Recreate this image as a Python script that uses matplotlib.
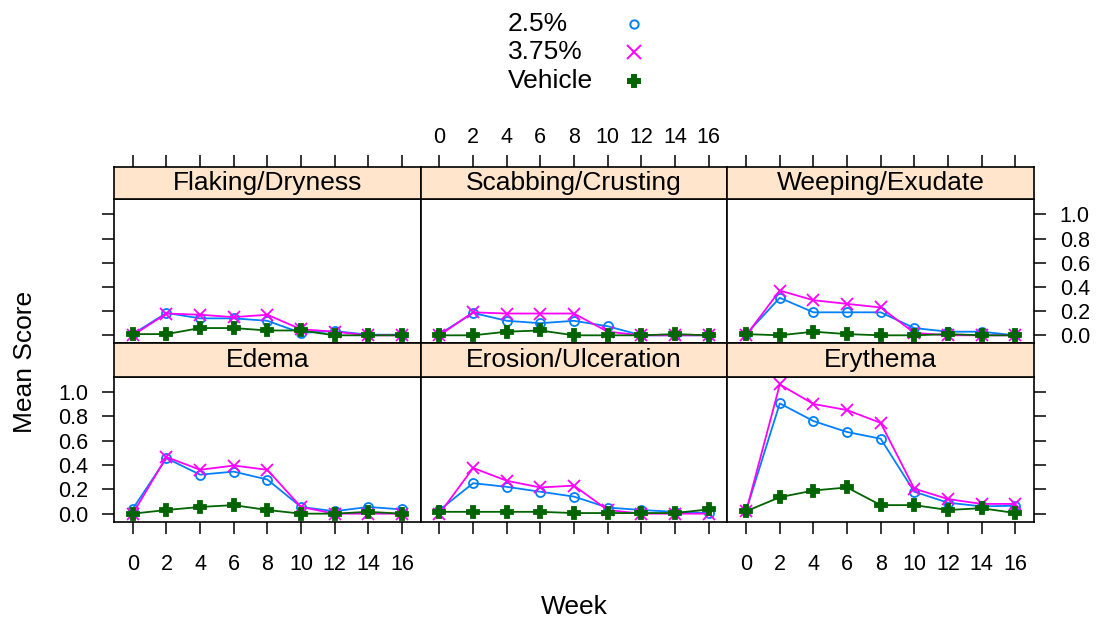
import numpy as np
import matplotlib
matplotlib.use("Agg")
import matplotlib.pyplot as plt

plt.rcParams['font.family'] = ['Liberation Sans', 'DejaVu Sans']

weeks = [0, 2, 4, 6, 8, 10, 12, 14, 16]
groups = ["2.5%", "3.75%", "Vehicle"]

# mean scores, per panel: 2.5%, 3.75%, Vehicle
flaking = [[0.01, 0.185, 0.14, 0.14, 0.12, 0.02, 0.035, 0.005, 0.005],
           [0.0, 0.18, 0.17, 0.15, 0.17, 0.05, 0.03, 0.0, 0.0],
           [0.01, 0.01, 0.06, 0.06, 0.04, 0.04, 0.0, 0.0, 0.0]]
scabbing = [[0.01, 0.185, 0.12, 0.10, 0.12, 0.075, 0.0, 0.0, 0.0],
            [0.0, 0.19, 0.18, 0.18, 0.18, 0.03, 0.0, 0.0, 0.0],
            [0.0, 0.0, 0.03, 0.04, 0.0, 0.0, 0.0, 0.01, 0.0]]
weeping = [[0.01, 0.31, 0.19, 0.19, 0.19, 0.06, 0.03, 0.03, 0.0],
           [0.0, 0.37, 0.29, 0.26, 0.23, 0.02, 0.0, 0.0, 0.0],
           [0.01, 0.0, 0.03, 0.01, 0.0, 0.0, 0.01, 0.0, 0.0]]
edema = [[0.04, 0.455, 0.32, 0.345, 0.28, 0.055, 0.02, 0.055, 0.035],
         [0.0, 0.465, 0.36, 0.395, 0.36, 0.055, 0.0, 0.0, 0.0],
         [0.0, 0.03, 0.055, 0.07, 0.03, 0.0, 0.0, 0.015, 0.0]]
erosion = [[0.03, 0.25, 0.22, 0.18, 0.14, 0.05, 0.03, 0.015, 0.005],
           [0.0, 0.375, 0.27, 0.215, 0.23, 0.03, 0.0, 0.0, 0.0],
           [0.015, 0.015, 0.015, 0.015, 0.005, 0.005, 0.005, 0.005, 0.035]]
erythema = [[0.025, 0.905, 0.76, 0.67, 0.615, 0.18, 0.09, 0.06, 0.065],
            [0.02, 1.06, 0.90, 0.85, 0.745, 0.205, 0.12, 0.08, 0.08],
            [0.02, 0.135, 0.19, 0.215, 0.07, 0.07, 0.03, 0.045, 0.005]]

panels = [("Flaking/Dryness", flaking), ("Scabbing/Crusting", scabbing),
          ("Weeping/Exudate", weeping), ("Edema", edema),
          ("Erosion/Ulceration", erosion), ("Erythema", erythema)]

colors = ["#0080ff", "#ff00ff", "#006400"]
markers = ["o", "x", "P"]
msizes = [6.5, 9, 9]

W, H = 1097, 620
fig = plt.figure(figsize=(W / 100, H / 100), dpi=100)

def box(x0, y0, x1, y1):
    # pixel box (from top-left) -> figure fraction
    return [x0 / W, 1 - y1 / H, (x1 - x0) / W, (y1 - y0) / H]

left, right = 114, 1034
colw = (right - left) / 3
rows = [(166.7, 199.3, 343.3), (343.3, 376.7, 521.7)]
xlim = (-1.12, 17.12)
ylim = (-0.066, 1.124)
yt = [0.0, 0.2, 0.4, 0.6, 0.8, 1.0]
tl = 8.6
fs_tick = 15.5
fs_big = 19

for k, (name, data) in enumerate(panels):
    r, c = divmod(k, 3)
    st, sb, pb = rows[r]
    x0 = left + c * colw
    ax = fig.add_axes(box(x0, sb, x0 + colw, pb))
    sx = fig.add_axes(box(x0, st, x0 + colw, sb))
    for a in (ax, sx):
        a.set_xlim(*xlim)
        for s in a.spines.values():
            s.set_linewidth(1.2)
    sx.set_facecolor("#ffe5cc")
    sx.set_ylim(0, 1)
    sx.set_yticks([])
    sx.text(0.5, 0.5, name, transform=sx.transAxes, ha="center", va="center",
            fontsize=fs_big)

    for g in range(3):
        ax.plot(weeks, data[g], color=colors[g], marker=markers[g], ms=msizes[g],
                mfc="none" if g == 0 else colors[g], mew=1.3, lw=1.3)
    ax.set_ylim(*ylim)

    # x ticks: bottom row on bottom, top row on top of strip
    ax.tick_params(axis="both", direction="out", length=tl, width=1.1,
                   labelsize=fs_tick, color="black")
    sx.tick_params(axis="x", direction="out", length=tl, width=1.1,
                   labelsize=fs_tick)
    if r == 1:
        ax.set_xticks(weeks)
        ax.tick_params(axis="x", bottom=True, top=False, pad=15,
                       labelbottom=(c != 1))
        sx.set_xticks([])
    else:
        ax.set_xticks([])
        sx.set_xticks(weeks)
        sx.tick_params(axis="x", bottom=False, top=True, labelbottom=False,
                       labeltop=(c == 1), pad=5)

    ax.set_yticks(yt)
    ax.set_yticklabels(["%.1f" % v for v in yt])
    if c == 0:
        ax.tick_params(axis="y", left=True, right=False, labelleft=(r == 1),
                       pad=10)
    elif c == 2:
        ax.tick_params(axis="y", left=False, right=True, labelleft=False,
                       labelright=(r == 0), pad=10)
    else:
        ax.tick_params(axis="y", left=False, right=False, labelleft=False)

fig.text(25 / W, 1 - 362 / H, "Mean Score", rotation=90, ha="center",
         va="center", fontsize=fs_big)
fig.text(574 / W, 1 - 607 / H, "Week", ha="center", va="center",
         fontsize=fs_big)

# key at the top
ky = [24, 52, 81]
for g in range(3):
    fig.text(508 / W, 1 - ky[g] / H, groups[g], ha="left", va="center",
             fontsize=fs_big)
    fig.lines.append(plt.Line2D([634 / W], [1 - ky[g] / H], transform=fig.transFigure,
                                marker=markers[g], color=colors[g],
                                mfc="none" if g == 0 else colors[g],
                                ms=[6, 10, 8][g], mew=1.4, ls="none"))

fig.savefig("out.png", dpi=100)
